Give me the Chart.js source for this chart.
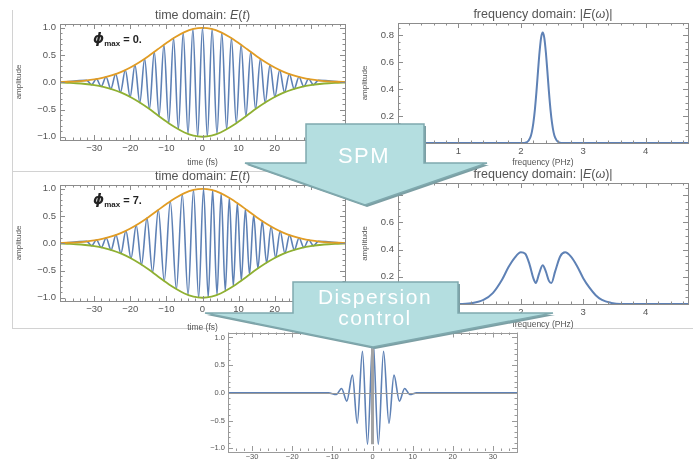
<!DOCTYPE html>
<html>
<head>
<meta charset="utf-8">
<script src="https://cdn.jsdelivr.net/npm/chart.js@4.4.1/dist/chart.umd.min.js"></script>
<style>
  body { margin: 0; background: #fff; width: 696px; height: 459px; position: relative; overflow: hidden; }
  .box { position: absolute; }
  .rule { position: absolute; background: #d2d2d2; }
  svg { position: absolute; left: 0; top: 0; }
</style>
</head>
<body>
<div class="rule" style="left:12px;top:10px;width:1px;height:318px"></div>
<div class="rule" style="left:12px;top:171px;width:300px;height:1px"></div>
<div class="rule" style="left:12px;top:328px;width:200px;height:1px"></div>
<div class="rule" style="left:515px;top:328px;width:178px;height:1px"></div>

<div class="box" style="left:12px;top:0;width:338px;height:172px"><canvas id="timeTop"></canvas></div>
<div class="box" style="left:350px;top:0;width:346px;height:172px"><canvas id="freqTop"></canvas></div>
<div class="box" style="left:12px;top:161px;width:338px;height:172px"><canvas id="timeMid"></canvas></div>
<div class="box" style="left:350px;top:159px;width:346px;height:172px"><canvas id="freqMid"></canvas></div>
<div class="box" style="left:200px;top:325px;width:325px;height:134px"><canvas id="timeBottom"></canvas></div>

<svg width="696" height="459">
  <g font-family="Liberation Sans, Arial, sans-serif" fill="#fff">
    <polygon points="308,126 426,126 426,165 489,165 367,207 247,165 308,165" fill="#7c9fa4"/>
    <polygon points="306,124 424,124 424,163 487,163 365,205 245,163 306,163" fill="#b4dee0" stroke="#7fa9ae" stroke-width="1.5"/>
    <text x="364" y="163" font-size="22" text-anchor="middle" letter-spacing="1.5">SPM</text>

    <polygon points="295,284 460,284 460,315 555,315 375,349 207,315 295,315" fill="#7c9fa4"/>
    <polygon points="293,282 458,282 458,313 553,313 373,347 205,313 293,313" fill="#b4dee0" stroke="#7fa9ae" stroke-width="1.5"/>
    <text x="375" y="304" font-size="21" text-anchor="middle" letter-spacing="1.5">Dispersion</text>
    <text x="375" y="325" font-size="21" text-anchor="middle" letter-spacing="1.5">control</text>
  </g>
</svg>

<script>
// time axis ticks (fs) and amplitude ticks
var timeTicks = [-30, -20, -10, 0, 10, 20, 30];
var ampTicks = [-1.0, -0.5, 0.0, 0.5, 1.0];
var freqTicks = [1, 2, 3, 4];
var specTicks = [0.0, 0.2, 0.4, 0.6, 0.8];

// pulse before SPM: extrema of the carrier (fs, amplitude)
var pulseTimes = [-39.5, -32.09, -30.75, -29.41, -28.08, -26.74, -25.40, -24.07, -22.73, -21.39, -20.06, -18.72, -17.38, -16.04, -14.71, -13.37, -12.03, -10.70, -9.36, -8.02, -6.69, -5.35, -4.01, -2.67, -1.34, 0, 1.34, 2.67, 4.01, 5.35, 6.69, 8.02, 9.36, 10.70, 12.03, 13.37, 14.71, 16.04, 17.38, 18.72, 20.06, 21.39, 22.73, 24.07, 25.40, 26.74, 28.08, 29.41, 30.75, 32.09, 39.5];
var pulseAmps = [0, 0.035, -0.046, 0.059, -0.076, 0.097, -0.121, 0.151, -0.185, 0.224, -0.269, 0.318, -0.373, 0.431, -0.493, 0.558, -0.623, 0.688, -0.751, 0.810, -0.864, 0.911, -0.949, 0.977, -0.994, 1.0, -0.994, 0.977, -0.949, 0.911, -0.864, 0.810, -0.751, 0.688, -0.623, 0.558, -0.493, 0.431, -0.373, 0.318, -0.269, 0.224, -0.185, 0.151, -0.121, 0.097, -0.076, 0.059, -0.046, 0.035, 0];

// pulse after SPM (phi_max = 7): chirped carrier extrema
var spmTimes = [-39.5, -32.07, -30.72, -29.40, -28.05, -26.70, -25.35, -23.99, -22.62, -21.23, -19.81, -18.37, -16.90, -15.40, -13.84, -12.24, -10.60, -8.92, -7.24, -5.60, -4.00, -2.50, -1.07, 0.29, 1.58, 2.81, 4.02, 5.17, 6.31, 7.43, 8.54, 9.65, 10.76, 11.89, 13.03, 14.18, 15.35, 16.55, 17.77, 19.01, 20.26, 21.54, 22.83, 24.13, 25.45, 26.77, 28.09, 29.43, 30.77, 32.10, 39.5];
var spmAmps = [0, 0.035, -0.046, 0.059, -0.077, 0.097, -0.123, 0.153, -0.188, 0.229, -0.277, 0.332, -0.393, 0.461, -0.535, 0.613, -0.693, 0.771, -0.843, 0.903, -0.949, 0.980, -0.996, 1.0, -0.992, 0.975, -0.949, 0.916, -0.878, 0.835, -0.788, 0.738, -0.685, 0.630, -0.574, 0.518, -0.463, 0.409, -0.356, 0.307, -0.262, 0.220, -0.182, 0.149, -0.120, 0.096, -0.076, 0.059, -0.046, 0.035, 0];

// envelope (same before and after SPM)
var envTimes = [-39.5, -37.5, -35, -32.5, -30, -27.5, -25, -22.5, -20, -17.5, -15, -12.5, -10, -7.5, -5, -2.5, 0, 2.5, 5, 7.5, 10, 12.5, 15, 17.5, 20, 22.5, 25, 27.5, 30, 32.5, 35, 37.5, 39.5];
var envUpper = [0.004, 0.010, 0.018, 0.032, 0.053, 0.085, 0.130, 0.191, 0.271, 0.368, 0.479, 0.600, 0.721, 0.832, 0.922, 0.980, 1.0, 0.980, 0.922, 0.832, 0.721, 0.600, 0.479, 0.368, 0.271, 0.191, 0.130, 0.085, 0.053, 0.032, 0.018, 0.010, 0.004];
var envLower = [-0.004, -0.010, -0.018, -0.032, -0.053, -0.085, -0.130, -0.191, -0.271, -0.368, -0.479, -0.600, -0.721, -0.832, -0.922, -0.980, -1.0, -0.980, -0.922, -0.832, -0.721, -0.600, -0.479, -0.368, -0.271, -0.191, -0.130, -0.085, -0.053, -0.032, -0.018, -0.010, -0.004];

// spectra |E(w)| (PHz, amplitude)
var specFreqTop = [0.03, 2.0, 2.1, 2.15, 2.175, 2.2, 2.225, 2.25, 2.275, 2.3, 2.325, 2.35, 2.375, 2.4, 2.425, 2.45, 2.475, 2.5, 2.525, 2.55, 2.6, 2.7, 4.68];
var specAmpTop = [0, 0, 0.007, 0.039, 0.079, 0.147, 0.248, 0.381, 0.533, 0.677, 0.782, 0.82, 0.782, 0.677, 0.533, 0.381, 0.248, 0.147, 0.079, 0.039, 0.007, 0, 0];
var specFreqMid = [0.03, 1.0, 1.2, 1.4, 1.55, 1.7, 1.8, 1.9, 2.0, 2.07, 2.14, 2.2, 2.24, 2.29, 2.35, 2.4, 2.45, 2.49, 2.55, 2.63, 2.71, 2.8, 2.9, 3.0, 3.1, 3.2, 3.3, 3.45, 3.6, 4.68];
var specAmpMid = [0, 0, 0.005, 0.03, 0.08, 0.18, 0.27, 0.34, 0.38, 0.37, 0.29, 0.19, 0.155, 0.22, 0.285, 0.24, 0.17, 0.155, 0.24, 0.35, 0.38, 0.35, 0.28, 0.19, 0.12, 0.065, 0.03, 0.008, 0, 0];

// compressed pulse after dispersion control
var compTimes = [-36, -11, -9.0, -7.7, -6.4, -5.0, -3.8, -2.5, -1.25, 0.1, 1.45, 2.75, 4.1, 5.35, 6.7, 8.0, 9.3, 11, 36];
var compAmps = [0, 0, -0.03, 0.08, -0.15, 0.32, -0.55, 0.75, -0.93, 1.0, -0.93, 0.75, -0.55, 0.32, -0.15, 0.08, -0.03, 0, 0];
var centreMarkT = [0, 0];
var centreMarkA = [-0.93, 0.8];

var BLUE = '#5e81b5', ORANGE = '#e19c24', GREEN = '#8fb032';
var TEXT = '#555';

Chart.defaults.font.family = '"Liberation Sans", Arial, sans-serif';
Chart.defaults.color = TEXT;

function pts(xs, ys) {
  return xs.map(function (x, i) { return { x: x, y: ys[i] }; });
}

function fmt(v, digits) {
  var s = Math.abs(v).toFixed(digits);
  return v < -1e-9 ? '\u2212' + s : s;
}

// Mathematica-like frame: box, inward ticks on all four sides, title, phi label
var framePlugin = {
  id: 'mmaFrame',
  afterDraw: function (chart, args, o) {
    var ctx = chart.ctx, a = chart.chartArea, x = chart.scales.x, y = chart.scales.y;
    ctx.save();
    ctx.strokeStyle = o.color;
    ctx.lineWidth = 1;
    if (o.zeroLine) {
      var zy = Math.round(y.getPixelForValue(0)) + 0.5;
      ctx.strokeStyle = '#9a9a9a';
      ctx.beginPath(); ctx.moveTo(a.left, zy); ctx.lineTo(a.right, zy); ctx.stroke();
      ctx.strokeStyle = o.color;
    }
    ctx.strokeRect(Math.round(a.left) + 0.5, Math.round(a.top) + 0.5, Math.round(a.right - a.left), Math.round(a.bottom - a.top));
    ctx.beginPath();
    var i, v, p, len;
    for (i = Math.ceil(x.min / o.xMinor - 1e-6); i * o.xMinor <= x.max + 1e-6; i++) {
      v = i * o.xMinor;
      len = o.xMajor.some(function (m) { return Math.abs(m - v) < 1e-6; }) ? 5 : 2.5;
      p = Math.round(x.getPixelForValue(v)) + 0.5;
      ctx.moveTo(p, a.bottom); ctx.lineTo(p, a.bottom - len);
      ctx.moveTo(p, a.top); ctx.lineTo(p, a.top + len);
    }
    for (i = Math.ceil(y.min / o.yMinor - 1e-6); i * o.yMinor <= y.max + 1e-6; i++) {
      v = i * o.yMinor;
      len = o.yMajor.some(function (m) { return Math.abs(m - v) < 1e-6; }) ? 5 : 2.5;
      p = Math.round(y.getPixelForValue(v)) + 0.5;
      ctx.moveTo(a.left, p); ctx.lineTo(a.left + len, p);
      ctx.moveTo(a.right, p); ctx.lineTo(a.right - len, p);
    }
    ctx.stroke();

    if (o.title) {
      var size = 12.5, w = 0;
      o.title.forEach(function (s) {
        ctx.font = (s[1] ? 'italic ' : '') + size + 'px "Liberation Sans", Arial, sans-serif';
        w += ctx.measureText(s[0]).width;
      });
      var tx = (a.left + a.right) / 2 - w / 2, ty = a.top - 5;
      ctx.fillStyle = TEXT;
      ctx.textBaseline = 'alphabetic';
      o.title.forEach(function (s) {
        ctx.font = (s[1] ? 'italic ' : '') + size + 'px "Liberation Sans", Arial, sans-serif';
        ctx.fillText(s[0], tx, ty);
        tx += ctx.measureText(s[0]).width;
      });
    }
    if (o.phi) {
      var px = a.left + 33, py = a.top + 19;
      ctx.fillStyle = '#222';
      ctx.textBaseline = 'alphabetic';
      ctx.font = 'bold italic 14px "DejaVu Sans", sans-serif';
      ctx.fillText('\u03d5', px, py);
      px += ctx.measureText('\u03d5').width;
      ctx.font = 'bold 8px "Liberation Sans", Arial, sans-serif';
      ctx.fillText('max', px, py + 3);
      px += ctx.measureText('max').width + 3;
      ctx.font = 'bold 11px "Liberation Sans", Arial, sans-serif';
      ctx.fillText('= ' + o.phi, px, py);
    }
    ctx.restore();
  }
};

function axes(opt) {
  return {
    x: {
      type: 'linear', min: opt.xMin, max: opt.xMax,
      grid: { display: false, drawTicks: false }, border: { display: false },
      afterBuildTicks: function (s) { s.ticks = opt.xTicks.map(function (v) { return { value: v }; }); },
      afterFit: function (s) { s.height = opt.xH; },
      ticks: { font: { size: opt.tickSize }, padding: 3, maxRotation: 0, autoSkip: false,
               callback: function (v) { return fmt(v, opt.xDigits); } },
      title: { display: !!opt.xTitle, text: opt.xTitle, font: { size: 8.5 }, padding: { top: 0, bottom: opt.xTitlePad || 0 } }
    },
    y: {
      type: 'linear', min: opt.yMin, max: opt.yMax,
      grid: { display: false, drawTicks: false }, border: { display: false },
      afterBuildTicks: function (s) { s.ticks = opt.yTicks.map(function (v) { return { value: v }; }); },
      afterFit: function (s) { s.width = opt.yW; },
      ticks: { font: { size: opt.tickSize }, padding: 4, autoSkip: false,
               callback: function (v) { return fmt(v, 1); } },
      title: { display: !!opt.yTitle, text: opt.yTitle, font: { size: 8 }, padding: { top: opt.yTitlePad || 0, bottom: 0 } }
    }
  };
}

function lineSet(data, color, width, order, smooth) {
  return {
    data: data, borderColor: color, borderWidth: width, pointRadius: 0,
    fill: false, order: order,
    cubicInterpolationMode: smooth ? 'monotone' : 'default', tension: 0
  };
}

function makeChart(id, datasets, scales, frame, padding) {
  return new Chart(document.getElementById(id), {
    type: 'line',
    data: { datasets: datasets },
    options: {
      responsive: true, maintainAspectRatio: false, animation: false,
      layout: { padding: padding },
      plugins: { legend: { display: false }, tooltip: { enabled: false }, title: { display: false }, mmaFrame: frame },
      scales: scales
    },
    plugins: [framePlugin]
  });
}

var timeTitle = [['time domain: ', false], ['E', true], ['(', false], ['t', true], [')', false]];
var freqTitle = [['frequency domain: |', false], ['E', true], ['(', false], ['\u03c9', true], [')|', false]];

var timeAxes = { xMin: -39.5, xMax: 39.5, yMin: -1.06, yMax: 1.07, xTicks: timeTicks, yTicks: ampTicks,
  xDigits: 0, tickSize: 9.5, xH: 32, yW: 48, xTitle: 'time (fs)', yTitle: 'amplitude', xTitlePad: 4, yTitlePad: 2 };

makeChart('timeTop', [
  lineSet(pts(envTimes, envUpper), ORANGE, 1.8, 1, true),
  lineSet(pts(envTimes, envLower), GREEN, 1.8, 1, true),
  lineSet(pts(pulseTimes, pulseAmps), BLUE, 1.6, 2, true)
], axes(timeAxes), { color: '#8c8c8c', xMinor: 2, xMajor: timeTicks, yMinor: 0.1, yMajor: ampTicks, title: timeTitle, phi: '0.' },
  { top: 24, right: 5, left: 0, bottom: 0 });

var timeAxesMid = Object.assign({}, timeAxes, { xTitlePad: 0 });
makeChart('timeMid', [
  lineSet(pts(envTimes, envUpper), ORANGE, 1.8, 1, true),
  lineSet(pts(envTimes, envLower), GREEN, 1.8, 1, true),
  lineSet(pts(spmTimes, spmAmps), BLUE, 1.6, 2, true)
], axes(timeAxesMid), { color: '#8c8c8c', xMinor: 2, xMajor: timeTicks, yMinor: 0.1, yMajor: ampTicks, title: timeTitle, phi: '7.' },
  { top: 24, right: 5, left: 0, bottom: 0 });

var freqAxes = { xMin: 0.03, xMax: 4.68, yMin: 0, yMax: 0.89, xTicks: freqTicks, yTicks: specTicks,
  xDigits: 0, tickSize: 9.5, xH: 29, yW: 48, xTitle: 'frequency (PHz)', yTitle: 'amplitude', xTitlePad: 4, yTitlePad: 10 };

makeChart('freqTop', [
  lineSet(pts(specFreqTop, specAmpTop), BLUE, 2, 1, true)
], axes(freqAxes), { color: '#8c8c8c', xMinor: 0.2, xMajor: freqTicks, yMinor: 0.05, yMajor: specTicks, title: freqTitle },
  { top: 23, right: 8, left: 0, bottom: 0 });

var freqAxesMid = Object.assign({}, freqAxes, { xH: 27, xTitlePad: 1 });
makeChart('freqMid', [
  lineSet(pts(specFreqMid, specAmpMid), BLUE, 2, 1, true)
], axes(freqAxesMid), { color: '#8c8c8c', xMinor: 0.2, xMajor: freqTicks, yMinor: 0.05, yMajor: specTicks, title: freqTitle },
  { top: 24, right: 8, left: 0, bottom: 0 });

var compAxes = { xMin: -36, xMax: 36, yMin: -1.05, yMax: 1.09, xTicks: timeTicks, yTicks: ampTicks,
  xDigits: 0, tickSize: 7.5, xH: 8, yW: 28, xTitle: '', yTitle: '' };
var compScales = axes(compAxes);
compScales.x.ticks.padding = 1;
compScales.y.ticks.padding = 3;

makeChart('timeBottom', [
  lineSet(pts(centreMarkT, centreMarkA), '#a3a3a3', 3, 1, false),
  lineSet(pts(compTimes, compAmps), BLUE, 1.6, 2, true)
], compScales, { color: '#9a9a9a', xMinor: 2, xMajor: timeTicks, yMinor: 0.1, yMajor: ampTicks, zeroLine: true },
  { top: 5, right: 8, left: 0, bottom: 0 });
</script>
</body>
</html>
